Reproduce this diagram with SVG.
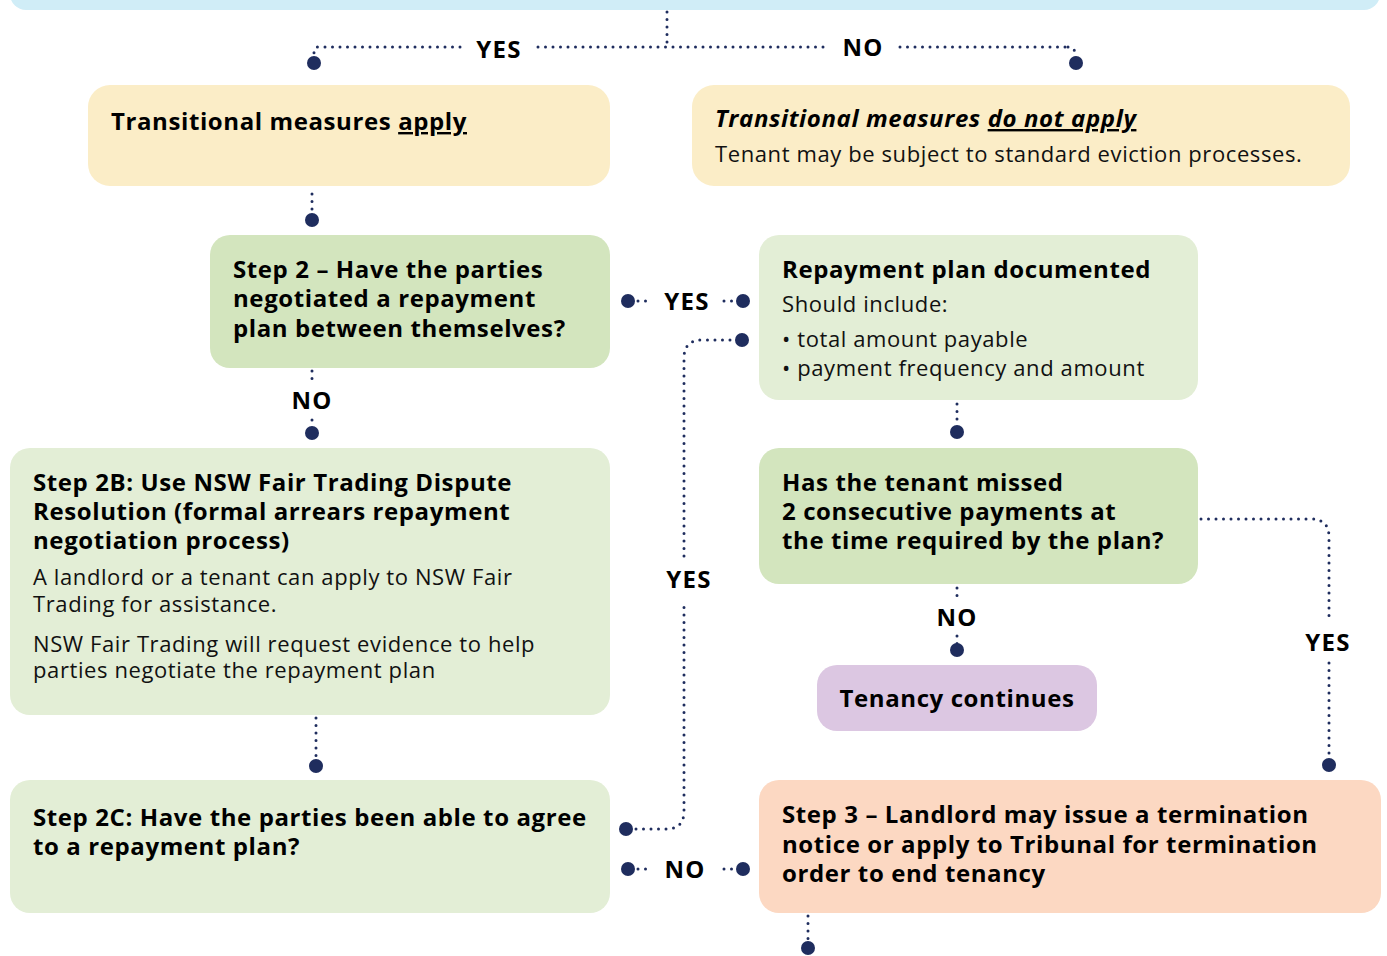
<svg xmlns="http://www.w3.org/2000/svg" width="1387" height="956" viewBox="0 0 1387 956">
<style>
.b{font-family:"Open Sans","Liberation Sans",sans-serif;font-weight:700;font-size:24px;letter-spacing:0.6px;fill:#000}
.r{font-family:"Open Sans","Liberation Sans",sans-serif;font-weight:400;font-size:22px;letter-spacing:0.6px;fill:#111}
.lbl{font-family:"Open Sans","Liberation Sans",sans-serif;font-weight:700;font-size:24px;letter-spacing:1.3px;fill:#000;text-anchor:middle}
.dl{fill:none;stroke:#1F2D5E;stroke-width:3;stroke-linecap:round;stroke-dasharray:0 7.5}
.dot{fill:#1F2D5E}
.y{fill:#FBEDC7}.g{fill:#D3E5BE}.lg{fill:#E3EED6}.p{fill:#DCC7E2}.o{fill:#FCD8C2}
</style>
<rect x="0" y="0" width="1387" height="956" fill="#fff"/>
<g id="top-bar"><rect x="10" y="-30" width="1370" height="40" rx="16" fill="#D0EDF7"/></g>
<g id="connectors">
<path class="dl" d="M667 12V47M538 47H826M900 47H1068"/>
<path class="dl" d="M460 47H318Q314 47 314 52V58M1068 47Q1075 47 1075 54V58"/>
<circle class="dot" cx="314" cy="63" r="7"/><circle class="dot" cx="1076" cy="63" r="7"/>
<text class="lbl" x="499" y="58">YES</text><text class="lbl" x="863" y="56">NO</text>
<path class="dl" d="M312 194V214"/><circle class="dot" cx="312" cy="220" r="7"/>
<circle class="dot" cx="628" cy="301" r="7"/><path class="dl" d="M638 301H648M724 301H736"/>
<circle class="dot" cx="743" cy="301" r="7"/><text class="lbl" x="687" y="310">YES</text>
<circle class="dot" cx="626" cy="829" r="7"/><circle class="dot" cx="742" cy="340" r="7"/>
<path class="dl" d="M636 829H666Q684 829 684 811V604M684 556V358Q684 340 702 340H735"/>
<text class="lbl" x="689" y="588">YES</text>
<path class="dl" d="M957 404V426"/><circle class="dot" cx="957" cy="432" r="7"/>
<path class="dl" d="M957 588V596M957 636V644"/><text class="lbl" x="957" y="626">NO</text><circle class="dot" cx="957" cy="650" r="7"/>
<path class="dl" d="M1201 519H1311Q1329 519 1329 537V622M1329 663V758"/><circle class="dot" cx="1329" cy="765" r="7"/>
<text class="lbl" x="1328" y="651">YES</text>
<path class="dl" d="M312 371V380M312 420V427"/><text class="lbl" x="312" y="409">NO</text><circle class="dot" cx="312" cy="433" r="7"/>
<path class="dl" d="M316 718V758"/><circle class="dot" cx="316" cy="766" r="7"/>
<circle class="dot" cx="628" cy="869" r="7"/><path class="dl" d="M638 869H648M724 869H736"/>
<circle class="dot" cx="743" cy="869" r="7"/><text class="lbl" x="685" y="878">NO</text>
<path class="dl" d="M808 916V941"/><circle class="dot" cx="808" cy="948" r="7"/>
</g>
<g id="ta-apply"><rect class="y" x="88" y="85" width="522" height="101" rx="22"/>
<text class="b" x="111" y="130">Transitional measures <tspan text-decoration="underline">apply</tspan></text></g>
<g id="ta-not-apply"><rect class="y" x="692" y="85" width="658" height="101" rx="22"/>
<text class="b" x="715" y="127" font-style="italic">Transitional measures <tspan text-decoration="underline">do not apply</tspan></text>
<text class="r" x="715" y="162">Tenant may be subject to standard eviction processes.</text></g>
<g id="step2"><rect class="g" x="210" y="235" width="400" height="133" rx="20"/>
<text class="b" x="233" y="278">Step 2 – Have the parties</text>
<text class="b" x="233" y="307">negotiated a repayment</text>
<text class="b" x="233" y="337">plan between themselves?</text></g>
<g id="repayment-plan"><rect class="lg" x="759" y="235" width="439" height="165" rx="20"/>
<text class="b" x="782" y="278">Repayment plan documented</text>
<text class="r" x="782" y="312">Should include:</text>
<text class="r" x="782" y="347">• total amount payable</text>
<text class="r" x="782" y="376">• payment frequency and amount</text></g>
<g id="step2b"><rect class="lg" x="10" y="448" width="600" height="267" rx="20"/>
<text class="b" x="33" y="491">Step 2B: Use NSW Fair Trading Dispute</text>
<text class="b" x="33" y="520">Resolution (formal arrears repayment</text>
<text class="b" x="33" y="549">negotiation process)</text>
<text class="r" x="33" y="585">A landlord or a tenant can apply to NSW Fair</text>
<text class="r" x="33" y="612">Trading for assistance.</text>
<text class="r" x="33" y="652">NSW Fair Trading will request evidence to help</text>
<text class="r" x="33" y="678">parties negotiate the repayment plan</text></g>
<g id="missed-payments"><rect class="g" x="759" y="448" width="439" height="136" rx="20"/>
<text class="b" x="782" y="491">Has the tenant missed</text>
<text class="b" x="782" y="520">2 consecutive payments at</text>
<text class="b" x="782" y="549">the time required by the plan?</text></g>
<g id="tenancy-continues"><rect class="p" x="817" y="665" width="280" height="66" rx="20"/>
<text class="b" x="957" y="707" text-anchor="middle">Tenancy continues</text></g>
<g id="step2c"><rect class="lg" x="10" y="780" width="600" height="133" rx="20"/>
<text class="b" x="33" y="826">Step 2C: Have the parties been able to agree</text>
<text class="b" x="33" y="855">to a repayment plan?</text></g>
<g id="step3"><rect class="o" x="759" y="780" width="622" height="133" rx="20"/>
<text class="b" x="782" y="823">Step 3 – Landlord may issue a termination</text>
<text class="b" x="782" y="853">notice or apply to Tribunal for termination</text>
<text class="b" x="782" y="882">order to end tenancy</text></g>
</svg>
